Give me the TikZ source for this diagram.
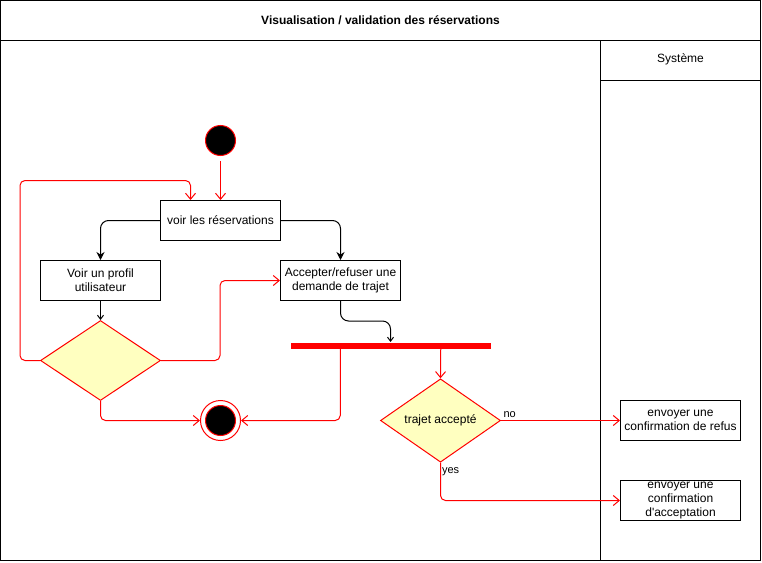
\documentclass[tikz,border=0pt]{standalone}
\usepackage{fontspec}
\setmainfont{Liberation Sans}
\usepackage{xcolor}
\usetikzlibrary{shapes.geometric}
\usetikzlibrary{arrows.meta}
\usetikzlibrary{calc}
\definecolor{choicefill}{HTML}{FFFFC0}

\begin{document}
\begin{tikzpicture}[x=1pt, y=-1pt, line width=1pt,
        font=\fontsize{12}{14}\selectfont,
        act/.style={draw, minimum width=120pt, minimum height=40pt, inner sep=0pt, align=center},
        choice/.style={diamond, draw=red, fill=choicefill, minimum width=120pt, minimum height=80pt, inner sep=0pt},
        redflow/.style={draw=red, rounded corners=5pt, -{Straight Barb[length=6pt, width=10pt]}},
        blackflow/.style={rounded corners=8pt, -{Stealth[length=8pt, width=8pt]}},
        thinflow/.style={rounded corners=8pt, -{Straight Barb[length=4pt, width=6pt]}}]
    \useasboundingbox (0, 0) rectangle (762, 562);

    \draw (0.5, 0.5) rectangle (760.5, 560.5);
    \draw (0.5, 40.5) -- (760.5, 40.5);
    \draw (600.5, 40.5) -- (600.5, 560.5);
    \draw (600.5, 80.5) -- (760.5, 80.5);
    \node[font=\fontsize{12}{14}\selectfont\bfseries] (title) at (380.5, 20) {Visualisation / validation des réservations};
    \node (systeme) at (680.5, 59) {Système};

    \node[circle, draw=red, fill=black, minimum size=30pt, inner sep=0pt] (start) at (220.5, 140.5) {};
    \node[act] (voir) at (220.5, 220.5) {voir les réservations};
    \node[act] (profil) at (100.5, 280.5) {Voir un profil\\utilisateur};
    \node[act] (accepter) at (340.5, 280.5) {Accepter/refuser une\\demande de trajet};
    \node[choice] (d1) at (100.5, 360.5) {};
    \node[circle, draw=red, minimum size=40pt, inner sep=0pt] (end) at (220.5, 420.5) {};
    \filldraw[draw=red, fill=black] (end.center) circle (15pt);
    \node[fill=red, minimum width=200pt, minimum height=6pt, inner sep=0pt] (fork) at (390.5, 345.5) {};
    \node[choice] (d2) at (440.5, 420.5) {trajet accepté};
    \node[act] (refus) at (680.5, 420.5) {envoyer une\\confirmation de refus};
    \node[act] (acceptation) at (680.5, 500.5) {envoyer une\\confirmation\\d\textquotesingle acceptation};

    \draw[redflow, shorten <=5pt] (start) -- (voir);
    \draw[blackflow] (voir.west) -| (profil.north);
    \draw[blackflow] (voir.east) -| (accepter.north);
    \draw[thinflow] (profil.south) -- (d1.north);
    \draw[thinflow] (accepter.south) -- ++(0, 20) -| (fork.north);
    \draw[redflow] (d1.west) -| ++(-20, -180) -| ([xshift=-30pt]voir.north);
    \draw[redflow] (d1.east) -| ([xshift=-60pt]accepter.west) -- (accepter.west);
    \draw[redflow] (d1.south) |- (end);
    \draw[redflow] ($(fork.south west)!0.25!(fork.south east)$) |- (end);
    \draw[redflow] ($(fork.south west)!0.75!(fork.south east)$) -- (d2.north);
    \draw[redflow] (d2.east) -- node[pos=0, above right, inner sep=2pt, font=\fontsize{11}{13}\selectfont] {no} (refus.west);
    \draw[redflow] (d2.south) |- node[pos=0.12, right, inner sep=1pt, font=\fontsize{11}{13}\selectfont] {yes} (acceptation.west);
\end{tikzpicture}
\end{document}
